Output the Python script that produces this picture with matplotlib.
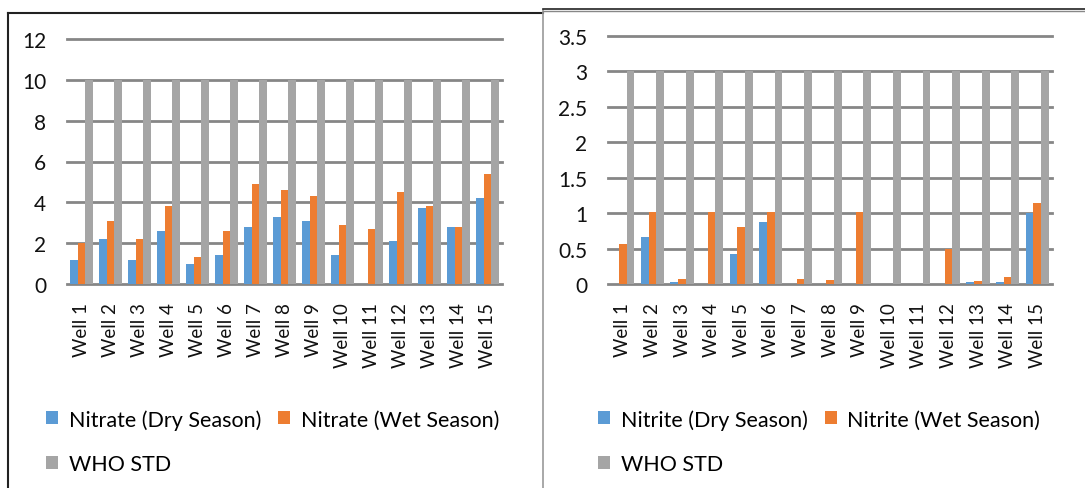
import matplotlib
matplotlib.use("Agg")
import matplotlib.pyplot as plt
import numpy as np
from matplotlib.lines import Line2D
from matplotlib.patches import Patch

wells = ["Well 1", "Well 2", "Well 3", "Well 4", "Well 5", "Well 6", "Well 7", "Well 8",
         "Well 9", "Well 10", "Well 11", "Well 12", "Well 13", "Well 14", "Well 15"]

nitrate_dry = [1.2, 2.2, 1.2, 2.6, 1.0, 1.4, 2.8, 3.3, 3.1, 1.4, 0.0, 2.1, 3.7, 2.8, 4.2]
nitrate_wet = [2.0, 3.1, 2.2, 3.8, 1.3, 2.6, 4.9, 4.6, 4.3, 2.9, 2.7, 4.5, 3.8, 2.8, 5.4]
nitrate_who = [10] * 15

nitrite_dry = [0.0, 0.66, 0.03, 0.0, 0.42, 0.88, 0.0, 0.0, 0.0, 0.0, 0.0, 0.0, 0.03, 0.03, 1.0]
nitrite_wet = [0.56, 1.02, 0.07, 1.02, 0.81, 1.02, 0.07, 0.05, 1.02, 0.0, 0.0, 0.5, 0.04, 0.1, 1.14]
nitrite_who = [3] * 15

nitrate_labels = ["Nitrate (Dry Season)", "Nitrate (Wet Season)", "WHO STD"]
nitrite_labels = ["Nitrite (Dry Season)", "Nitrite (Wet Season)", "WHO STD"]

C_DRY = "#5b9bd5"
C_WET = "#ed7d31"
C_WHO = "#a5a5a5"
GRID = "#868686"

plt.rcParams["font.family"] = ["Lato", "DejaVu Sans"]

W, H = 1085, 489
fig = plt.figure(figsize=(W / 100, H / 100), dpi=100)
fig.patch.set_facecolor("white")


def px_rect(x0, y0, x1, y1):
    return [x0 / W, 1 - y1 / H, (x1 - x0) / W, (y1 - y0) / H]


def draw(ax, dry, wet, who, ymax, ystep, yfmt):
    x = np.arange(len(wells))
    bw = 0.26
    ax.bar(x - bw, dry, bw, color=C_DRY, zorder=3)
    ax.bar(x, wet, bw, color=C_WET, zorder=3)
    ax.bar(x + bw, who, bw, color=C_WHO, zorder=3)
    ax.set_xlim(-0.5, len(wells) - 0.5)
    ax.set_ylim(0, ymax)
    ticks = np.arange(0, ymax + 1e-9, ystep)
    ax.set_yticks(ticks)
    ax.set_yticklabels([yfmt(t) for t in ticks])
    ax.set_xticks(x)
    ax.set_xticklabels(wells, rotation=90, va="top", ha="center")
    for t in ticks:
        ax.axhline(t, color=GRID, lw=2.0, zorder=1, clip_on=False)
    for s in ax.spines.values():
        s.set_visible(False)
    ax.tick_params(axis="both", length=0)
    ax.tick_params(axis="y", pad=15, labelsize=15, colors="#111111")
    ax.tick_params(axis="x", pad=13, labelsize=13.5, colors="#111111")


def fmt_int(v):
    return f"{int(round(v))}"


def fmt_half(v):
    return f"{int(v)}" if abs(v - round(v)) < 1e-9 else f"{v:g}"


ax1 = fig.add_axes(px_rect(67, 40, 502, 285))
draw(ax1, nitrate_dry, nitrate_wet, nitrate_who, 12, 2, fmt_int)

ax2 = fig.add_axes(px_rect(608, 37, 1052, 285))
draw(ax2, nitrite_dry, nitrite_wet, nitrite_who, 3.5, 0.5, fmt_half)


def add_legend(labels, x_px):
    handles = [Patch(facecolor=C_DRY), Patch(facecolor=C_WHO), Patch(facecolor=C_WET)]
    labs = [labels[0], labels[2], labels[1]]
    fig.legend(handles, labs, ncol=2, loc="upper left",
               bbox_to_anchor=(x_px / W, 1 - 410 / H), frameon=False,
               handlelength=0.55, handleheight=0.55, handletextpad=0.5,
               columnspacing=0.8, labelspacing=1.15, fontsize=15.5,
               borderpad=0, borderaxespad=0)


add_legend(nitrate_labels, 46)
add_legend(nitrite_labels, 598)

# panel borders
def fline(xs, ys, color, lw):
    fig.add_artist(Line2D([x / W for x in xs], [1 - y / H for y in ys],
                          color=color, lw=lw, transform=fig.transFigure))

fline([8, 8], [14, 489], "#222222", 1.5)
fline([8, 543], [13.5, 13.5], "#222222", 1.5)
fline([543, 543], [11, 489], "#999999", 1.2)
fline([543, 1085], [10, 10], "#222222", 1.2)
fline([543, 1085], [12, 12], "#888888", 1.0)

fig.savefig("out.png", dpi=100, facecolor="white")
